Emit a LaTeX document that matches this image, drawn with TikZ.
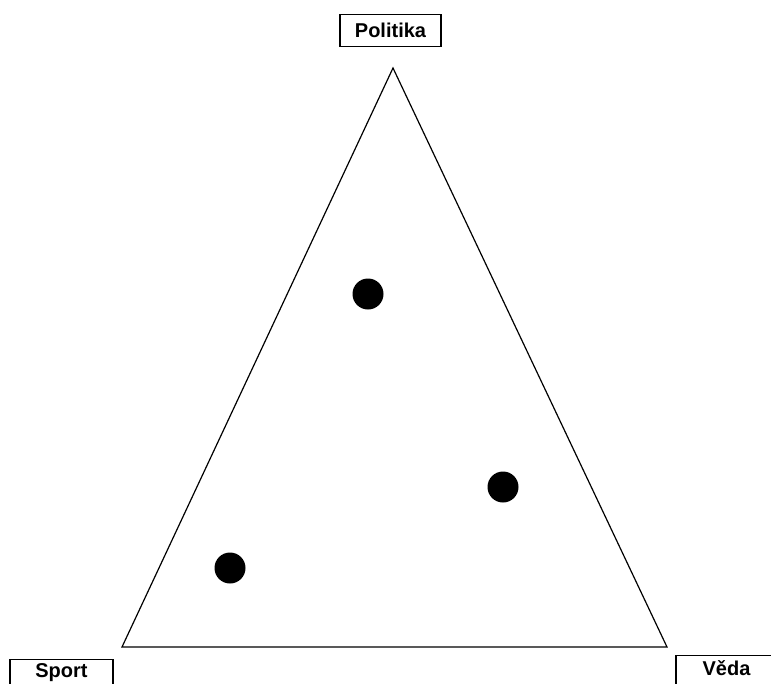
\documentclass[tikz,border=0pt]{standalone}
\usepackage{fontspec}
\setmainfont{Liberation Sans}
\begin{document}
\begin{tikzpicture}[x=1pt,y=-1pt,
  labelbox/.style={draw=black,line width=1.4pt,fill=white,anchor=north,minimum width=101pt,inner sep=0pt,text height=22pt,text depth=10pt,font=\fontsize{20}{24}\selectfont\bfseries},
  dot/.style={circle,fill=black,minimum size=31pt,inner sep=0pt}]
\clip (0,0) rectangle (771,683);
\fill[white] (0,0) rectangle (771,683);
\coordinate (top) at (393,68);
\coordinate (bl) at (122,647);
\coordinate (br) at (667,647);
\draw[line width=1.2pt,line join=miter] (top) -- (bl) -- (br) -- cycle;
\node[dot] (d1) at (368,294) {};
\node[dot] (d2) at (503,487) {};
\node[dot] (d3) at (230,568) {};
\node[labelbox,text height=23pt,text depth=9pt] (politika) at (390.5,14) {Politika};
\node[labelbox,minimum width=103pt,text height=17.5pt,text depth=14pt] (sport) at (61.5,659) {Sport};
\node[labelbox,text height=20pt] (veda) at (726.5,655) {Věda};
\end{tikzpicture}
\end{document}
